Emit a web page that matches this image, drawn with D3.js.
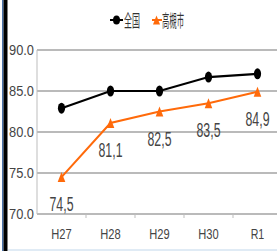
<!DOCTYPE html>
<html>
<head>
<meta charset="utf-8">
<script src="https://cdn.jsdelivr.net/npm/d3@7"></script>
<style>
  body { margin: 0; background: #fff; }
  svg { display: block; }
</style>
</head>
<body>
<script>
// 区分と値
var years = ["H27", "H28", "H29", "H30", "R1"];
var national = [82.9, 85.0, 85.0, 86.7, 87.1];
var takatsuki = [74.5, 81.1, 82.5, 83.5, 84.9];
var valueLabels = ["74,5", "81,1", "82,5", "83,5", "84,9"];
var yTicks = [70, 75, 80, 85, 90];

var w = 277, h = 251;
var padLeft = 37, padRight = 282, padTop = 50, padBottom = 214;
var orange = "#ff6a0a";
var narrow = "'Liberation Sans Narrow', 'Liberation Sans', sans-serif";

var svg = d3.select("body").append("svg")
  .attr("width", w)
  .attr("height", h);

var x = d3.scaleBand().domain(years).range([padLeft, padRight]);
var y = d3.scaleLinear().domain([70, 90]).range([padBottom, padTop]);
var cx = function (d, i) { return x(years[i]) + x.bandwidth() / 2; };

// グリッド線
svg.append("g")
  .selectAll("line")
  .data(yTicks)
  .enter()
  .append("line")
  .attr("x1", padLeft)
  .attr("x2", w)
  .attr("y1", function (d) { return y(d); })
  .attr("y2", function (d) { return y(d); })
  .attr("stroke", "#a3a3a3")
  .attr("stroke-width", 1.5);

// 縦軸の線
svg.append("line")
  .attr("x1", padLeft).attr("x2", padLeft)
  .attr("y1", padTop).attr("y2", padBottom)
  .attr("stroke", "#bdbdbd");

// 横軸の目盛り
svg.append("g")
  .selectAll("line")
  .data(years.slice(1))
  .enter()
  .append("line")
  .attr("x1", function (d) { return x(d); })
  .attr("x2", function (d) { return x(d); })
  .attr("y1", padBottom)
  .attr("y2", padBottom + 4)
  .attr("stroke", "#bdbdbd");

// 縦軸ラベル
svg.append("g")
  .selectAll("text")
  .data(yTicks)
  .enter()
  .append("text")
  .attr("x", 34)
  .attr("y", function (d) { return y(d) + 5; })
  .attr("text-anchor", "end")
  .attr("font-family", narrow)
  .attr("font-size", 14)
  .attr("textLength", 25)
  .attr("lengthAdjust", "spacingAndGlyphs")
  .attr("fill", "#444")
  .text(function (d) { return d3.format(".1f")(d); });

// 横軸ラベル
svg.append("g")
  .selectAll("text")
  .data(years)
  .enter()
  .append("text")
  .attr("x", function (d) { return x(d) + x.bandwidth() / 2; })
  .attr("y", 239)
  .attr("text-anchor", "middle")
  .attr("font-family", narrow)
  .attr("font-size", 15.5)
  .attr("textLength", function (d) { return d.length * 6.8; })
  .attr("lengthAdjust", "spacingAndGlyphs")
  .attr("fill", "#444")
  .text(function (d) { return d; });

var line = d3.line()
  .x(cx)
  .y(function (d) { return y(d); });

// 全国
svg.append("path")
  .attr("d", line(national))
  .attr("fill", "none")
  .attr("stroke", "#000")
  .attr("stroke-width", 2.2);

svg.append("g")
  .selectAll("ellipse")
  .data(national)
  .enter()
  .append("ellipse")
  .attr("cx", cx)
  .attr("cy", function (d) { return y(d); })
  .attr("rx", 3.6)
  .attr("ry", 5.5)
  .attr("fill", "#000");

// 高槻市
svg.append("path")
  .attr("d", line(takatsuki))
  .attr("fill", "none")
  .attr("stroke", orange)
  .attr("stroke-width", 2);

var tri = function (px, py, hw, hh) {
  return "M" + px + "," + (py - hh) + "L" + (px + hw) + "," + (py + hh) + "L" + (px - hw) + "," + (py + hh) + "Z";
};

svg.append("g")
  .selectAll("path")
  .data(takatsuki)
  .enter()
  .append("path")
  .attr("d", function (d, i) { return tri(cx(d, i), y(d), 3.8, 5); })
  .attr("fill", orange);

// 値ラベル
svg.append("g")
  .selectAll("text")
  .data(takatsuki)
  .enter()
  .append("text")
  .attr("x", cx)
  .attr("y", function (d) { return y(d) + 34; })
  .attr("text-anchor", "middle")
  .attr("font-family", narrow)
  .attr("font-size", 20)
  .attr("textLength", 24)
  .attr("lengthAdjust", "spacingAndGlyphs")
  .attr("fill", "#444")
  .text(function (d, i) { return valueLabels[i]; });

// 凡例
var legend = svg.append("g").attr("font-family", "'Noto Sans CJK JP', sans-serif").attr("font-size", 17);
legend.append("line").attr("x1", 110).attr("x2", 123).attr("y1", 20).attr("y2", 20)
  .attr("stroke", "#000").attr("stroke-width", 2);
legend.append("ellipse").attr("cx", 116.5).attr("cy", 20).attr("rx", 3.5).attr("ry", 4.5).attr("fill", "#000");
legend.append("text").attr("x", 124).attr("y", 27).attr("textLength", 16)
  .attr("lengthAdjust", "spacingAndGlyphs").attr("fill", "#333").text("全国");
legend.append("line").attr("x1", 152).attr("x2", 162).attr("y1", 20).attr("y2", 20)
  .attr("stroke", orange).attr("stroke-width", 2);
legend.append("path").attr("d", tri(156.5, 20, 3.5, 4.5)).attr("fill", orange);
legend.append("text").attr("x", 162).attr("y", 27).attr("textLength", 22)
  .attr("lengthAdjust", "spacingAndGlyphs").attr("fill", "#333").text("高槻市");

// 枠
svg.append("rect").attr("x", 2).attr("y", 0).attr("width", 1.5).attr("height", h).attr("fill", "#4a72a8");
svg.append("rect").attr("x", 3.5).attr("y", 0).attr("width", 4).attr("height", h).attr("fill", "#000");
svg.append("line").attr("x1", 8).attr("x2", w).attr("y1", 250).attr("y2", 250)
  .attr("stroke", "#d6e4f2").attr("stroke-width", 1.5);
</script>
</body>
</html>
